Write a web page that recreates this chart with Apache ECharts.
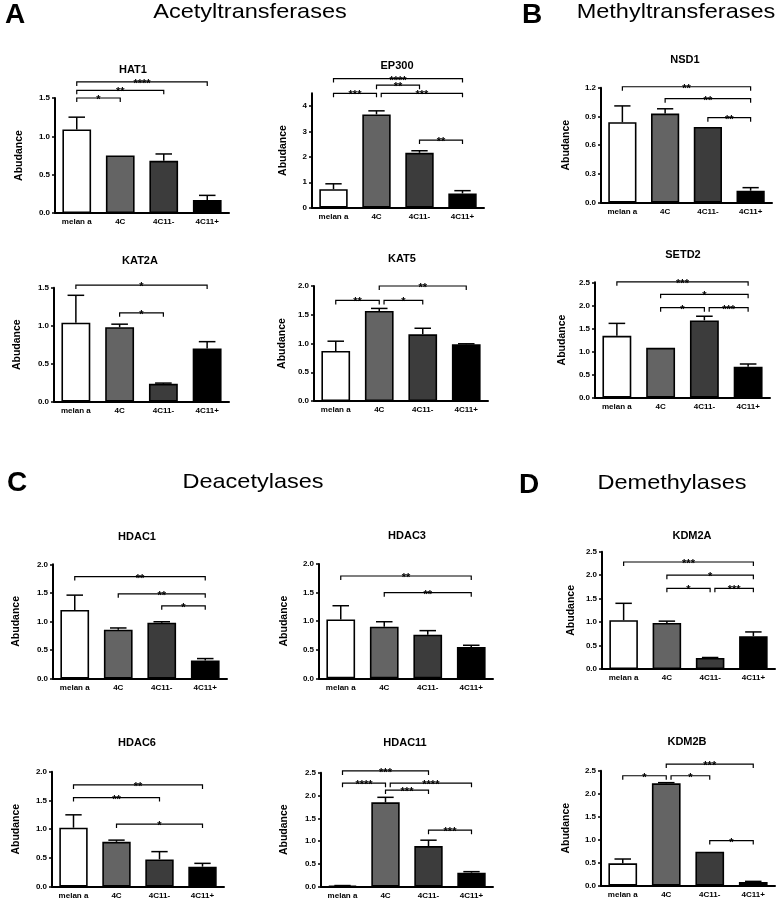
<!DOCTYPE html>
<html>
<head>
<meta charset="utf-8">
<script src="https://cdn.jsdelivr.net/npm/echarts@6/dist/echarts.min.js"></script>
<style>
html,body{margin:0;padding:0;background:#fff;}
#c{width:778px;height:901px;}
</style>
</head>
<body>
<div id="c"></div>
<script>
// ---------- DATA ----------
const categories = ['melan a', '4C', '4C11-', '4C11+'];

const hat1Mean = [1.09, 0.75, 0.68, 0.17];
const hat1Err  = [0.16, 0, 0.09, 0.06];
const hat1Sig  = [[0, 1, 1.50, '*'], [0, 2, 1.60, '**'], [0, 3, 1.71, '****']];
const hat1Ticks = [0, 0.5, 1, 1.5];

const ep300Mean = [0.73, 3.67, 2.16, 0.56];
const ep300Err  = [0.21, 0.14, 0.08, 0.11];
const ep300Sig  = [[0, 3, 5.08, '****'], [1, 2, 4.82, '**'], [0, 1, 4.50, '***'], [1, 3, 4.50, '***'], [2, 3, 2.66, '**']];
const ep300Ticks = [0, 1, 2, 3, 4];

const nsd1Mean = [0.84, 0.93, 0.79, 0.125];
const nsd1Err  = [0.17, 0.05, 0, 0.032];
const nsd1Sig  = [[0, 3, 1.21, '**'], [1, 3, 1.085, '**'], [2, 3, 0.887, '**']];
const nsd1Ticks = [0, 0.3, 0.6, 0.9, 1.2];

const kat2aMean = [1.04, 0.98, 0.235, 0.70];
const kat2aErr  = [0.36, 0.04, 0.01, 0.09];
const kat2aSig  = [[0, 3, 1.535, '*'], [1, 2, 1.17, '*']];
const kat2aTicks = [0, 0.5, 1, 1.5];

const kat5Mean = [0.87, 1.565, 1.16, 0.985];
const kat5Err  = [0.17, 0.045, 0.105, 0.01];
const kat5Sig  = [[0, 1, 1.75, '**'], [1, 2, 1.75, '*'], [1, 3, 2.0, '**']];
const kat5Ticks = [0, 0.5, 1, 1.5, 2];

const setd2Mean = [1.34, 1.08, 1.675, 0.67];
const setd2Err  = [0.27, 0, 0.09, 0.06];
const setd2Sig  = [[0, 3, 2.51, '***'], [1, 3, 2.24, '*'], [1, 2, 1.95, '*'], [2, 3, 1.95, '***']];
const setd2Ticks = [0, 0.5, 1, 1.5, 2, 2.5];

const hdac1Mean = [1.20, 0.855, 0.977, 0.314];
const hdac1Err  = [0.26, 0.03, 0.017, 0.035];
const hdac1Sig  = [[0, 3, 1.785, '**'], [1, 3, 1.483, '**'], [2, 3, 1.273, '*']];
const hdac1Ticks = [0, 0.5, 1, 1.5, 2];

const hdac3Mean = [1.03, 0.904, 0.764, 0.548];
const hdac3Err  = [0.24, 0.086, 0.07, 0.03];
const hdac3Sig  = [[0, 3, 1.79, '**'], [1, 3, 1.498, '**']];
const hdac3Ticks = [0, 0.5, 1, 1.5, 2];

const kdm2aMean = [1.04, 0.98, 0.235, 0.70];
const kdm2aErr  = [0.36, 0.04, 0.01, 0.09];
const kdm2aSig  = [[0, 3, 2.28, '***'], [1, 3, 2.0, '*'], [1, 2, 1.72, '*'], [2, 3, 1.72, '***']];
const kdm2aTicks = [0, 0.5, 1, 1.5, 2, 2.5];

const hdac6Mean = [1.026, 0.78, 0.475, 0.348];
const hdac6Err  = [0.224, 0.03, 0.135, 0.058];
const hdac6Sig  = [[0, 3, 1.77, '**'], [0, 2, 1.55, '**'], [1, 3, 1.09, '*']];
const hdac6Ticks = [0, 0.5, 1, 1.5, 2];

const hdac11Mean = [0.02, 1.85, 0.89, 0.307];
const hdac11Err  = [0.005, 0.11, 0.13, 0.023];
const hdac11Sig  = [[0, 2, 2.54, '***'], [0, 1, 2.27, '****'], [1, 3, 2.27, '****'], [1, 2, 2.12, '***'], [2, 3, 1.24, '***']];
const hdac11Ticks = [0, 0.5, 1, 1.5, 2, 2.5];

const kdm2bMean = [0.486, 2.225, 0.74, 0.08];
const kdm2bErr  = [0.094, 0.015, 0, 0.014];
const kdm2bSig  = [[0, 1, 2.39, '*'], [1, 2, 2.39, '*'], [1, 3, 2.645, '***'], [2, 3, 0.98, '*']];
const kdm2bTicks = [0, 0.5, 1, 1.5, 2, 2.5];

const yAxisName = 'Abudance';

const panels = [
  {title: 'HAT1',   mean: hat1Mean,   err: hat1Err,   sig: hat1Sig,   ticks: hat1Ticks,   yMax: 1.5},
  {title: 'EP300',  mean: ep300Mean,  err: ep300Err,  sig: ep300Sig,  ticks: ep300Ticks,  yMax: 4.5},
  {title: 'NSD1',   mean: nsd1Mean,   err: nsd1Err,   sig: nsd1Sig,   ticks: nsd1Ticks,   yMax: 1.2},
  {title: 'KAT2A',  mean: kat2aMean,  err: kat2aErr,  sig: kat2aSig,  ticks: kat2aTicks,  yMax: 1.5},
  {title: 'KAT5',   mean: kat5Mean,   err: kat5Err,   sig: kat5Sig,   ticks: kat5Ticks,   yMax: 2.0},
  {title: 'SETD2',  mean: setd2Mean,  err: setd2Err,  sig: setd2Sig,  ticks: setd2Ticks,  yMax: 2.5},
  {title: 'HDAC1',  mean: hdac1Mean,  err: hdac1Err,  sig: hdac1Sig,  ticks: hdac1Ticks,  yMax: 2.0},
  {title: 'HDAC3',  mean: hdac3Mean,  err: hdac3Err,  sig: hdac3Sig,  ticks: hdac3Ticks,  yMax: 2.0},
  {title: 'KDM2A',  mean: kdm2aMean,  err: kdm2aErr,  sig: kdm2aSig,  ticks: kdm2aTicks,  yMax: 2.5},
  {title: 'HDAC6',  mean: hdac6Mean,  err: hdac6Err,  sig: hdac6Sig,  ticks: hdac6Ticks,  yMax: 2.0},
  {title: 'HDAC11', mean: hdac11Mean, err: hdac11Err, sig: hdac11Sig, ticks: hdac11Ticks, yMax: 2.5},
  {title: 'KDM2B',  mean: kdm2bMean,  err: kdm2bErr,  sig: kdm2bSig,  ticks: kdm2bTicks,  yMax: 2.5}
];

const headers = [
  {text: 'A', x: 15, y: 15, big: true},
  {text: 'Acetyltransferases', x: 250, y: 12},
  {text: 'B', x: 532, y: 15, big: true},
  {text: 'Methyltransferases', x: 676, y: 12},
  {text: 'C', x: 17, y: 483, big: true},
  {text: 'Deacetylases', x: 253, y: 482},
  {text: 'D', x: 529, y: 485, big: true},
  {text: 'Demethylases', x: 672, y: 483}
];

// ---------- LAYOUT (positions only) ----------
const layout = [
  {left: 55,  top: 98,    w: 174, h: 115,   nameX: 20,  tx: 133, ty: 70},
  {left: 312, top: 93.3,  w: 172, h: 114.4, nameX: 284, tx: 397, ty: 66},
  {left: 601, top: 87.7,  w: 171, h: 115,   nameX: 567, tx: 685, ty: 60},
  {left: 54,  top: 287.7, w: 175, h: 114,   nameX: 18,  tx: 140, ty: 261},
  {left: 314, top: 286,   w: 174, h: 115,   nameX: 283, tx: 402, ty: 259},
  {left: 595, top: 282.3, w: 175, h: 115.4, nameX: 563, tx: 683, ty: 255},
  {left: 53,  top: 564.3, w: 174, h: 114.2, nameX: 17,  tx: 137, ty: 537},
  {left: 319, top: 564,   w: 174, h: 114.3, nameX: 285, tx: 407, ty: 536},
  {left: 602, top: 551.7, w: 173, h: 117.3, nameX: 572, tx: 692, ty: 536},
  {left: 52,  top: 771.7, w: 172, h: 115,   nameX: 17,  tx: 137, ty: 743},
  {left: 321, top: 772.7, w: 172, h: 114,   nameX: 285, tx: 405, ty: 743},
  {left: 601, top: 770.7, w: 174, h: 115,   nameX: 567, tx: 687, ty: 742}
];

const barColors = ['#ffffff', '#646464', '#3c3c3c', '#000000'];
const FONT = '"Liberation Sans", Arial, sans-serif';

// ---------- BUILD ----------
const grid = [], xAxis = [], yAxis = [], series = [], graphic = [];

panels.forEach((p, i) => {
  const L = layout[i];
  grid.push({left: L.left, top: L.top, width: L.w, height: L.h, containLabel: false});
  xAxis.push({
    gridIndex: i, type: 'category', data: categories,
    axisLine: {lineStyle: {color: '#000', width: 2}},
    axisTick: {alignWithLabel: true, length: 4, lineStyle: {color: '#000', width: 1.5}},
    axisLabel: {interval: 0, color: '#000', fontWeight: 'bold', fontSize: 8, margin: 5, fontFamily: FONT}
  });
  const intTicks = p.ticks.every(v => Math.abs(v - Math.round(v)) < 1e-9);
  const step = p.ticks[1] - p.ticks[0];
  yAxis.push({
    gridIndex: i, type: 'value', min: 0, max: p.yMax, interval: step,
    name: yAxisName, nameLocation: 'middle', nameGap: L.left - L.nameX - 5,
    nameTextStyle: {color: '#000', fontWeight: 'bold', fontSize: 10.5, fontFamily: FONT},
    axisLine: {show: true, lineStyle: {color: '#000', width: 2}},
    axisTick: {show: true, length: 3, customValues: p.ticks, lineStyle: {color: '#000', width: 1.5}},
    axisLabel: {
      color: '#000', fontWeight: 'bold', fontSize: 8, margin: 5, fontFamily: FONT,
      customValues: p.ticks,
      formatter: v => {
        const ok = p.ticks.some(t => Math.abs(t - v) < 1e-6);
        if (!ok) return '';
        return intTicks ? String(Math.round(v)) : v.toFixed(1);
      }
    },
    splitLine: {show: false}
  });

  series.push({
    type: 'bar', xAxisIndex: i, yAxisIndex: i, barWidth: '66%', silent: true,
    data: p.mean.map((v, k) => ({value: v, itemStyle: {color: barColors[k], borderColor: '#000', borderWidth: 1.6}})),
    z: 2
  });

  series.push({
    type: 'custom', xAxisIndex: i, yAxisIndex: i, silent: true, z: 5,
    data: p.mean.map((v, k) => [k, v, p.err[k]]),
    renderItem: (params, api) => {
      const e = api.value(2);
      if (!e) return null;
      const k = api.value(0), m = api.value(1);
      const a = api.coord([k, m]);
      const b = api.coord([k, m + e]);
      const hw = api.size([1, 0])[0] * 0.19;
      return {type: 'group', children: [
        {type: 'line', shape: {x1: a[0], y1: a[1], x2: b[0], y2: b[1]}, style: {stroke: '#000', lineWidth: 1.5}},
        {type: 'line', shape: {x1: b[0] - hw, y1: b[1], x2: b[0] + hw, y2: b[1]}, style: {stroke: '#000', lineWidth: 1.5}}
      ]};
    }
  });

  // significance brackets
  const sigData = p.sig.map(s => {
    const shared = p.sig.some(o => o !== s && o[1] === s[0] && Math.abs(o[2] - s[2]) < 0.05);
    return [s[0], s[2], s[1], shared ? 0.11 : 0];
  });
  const labels = p.sig.map(s => s[3]);
  series.push({
    type: 'custom', xAxisIndex: i, yAxisIndex: i, silent: true, z: 6, clip: false,
    data: sigData,
    renderItem: (params, api) => {
      const from = api.value(0), y = api.value(1), to = api.value(2), sh = api.value(3);
      const pt = api.coord([from, y]);
      const bw = api.size([1, 0])[0];
      const x1 = pt[0] + sh * bw;
      const x2 = pt[0] + (to - from) * bw;
      const py = pt[1];
      return {type: 'group', children: [
        {type: 'polyline', shape: {points: [[x1, py + 4], [x1, py], [x2, py], [x2, py + 4]]},
         style: {stroke: '#000', lineWidth: 1.2, fill: null}},
        {type: 'text', x: (x1 + x2) / 2, y: py + 2,
         style: {text: labels[params.dataIndex], textAlign: 'center', textVerticalAlign: 'middle',
                 font: 'bold 11px ' + FONT, fill: '#000'}}
      ]};
    }
  });

  graphic.push({
    type: 'text', x: L.tx, y: L.ty, silent: true,
    style: {text: p.title, textAlign: 'center', textVerticalAlign: 'middle', font: 'bold 11px ' + FONT, fill: '#000'}
  });
});

headers.forEach(h => {
  if (h.big) {
    graphic.push({type: 'text', x: h.x, y: h.y, silent: true,
      style: {text: h.text, textAlign: 'center', textVerticalAlign: 'middle', font: 'bold 28px ' + FONT, fill: '#000'}});
  } else {
    graphic.push({type: 'text', x: h.x, y: h.y, scaleX: 1.12, silent: true,
      style: {x: 0, y: 0, text: h.text, textAlign: 'center', textVerticalAlign: 'middle', font: '21px ' + FONT, fill: '#000'}});
  }
});

const chart = echarts.init(document.getElementById('c'), null, {renderer: 'canvas'});
chart.setOption({
  backgroundColor: '#ffffff',
  animation: false,
  textStyle: {fontFamily: FONT},
  grid, xAxis, yAxis, series, graphic
});
</script>
</body>
</html>
